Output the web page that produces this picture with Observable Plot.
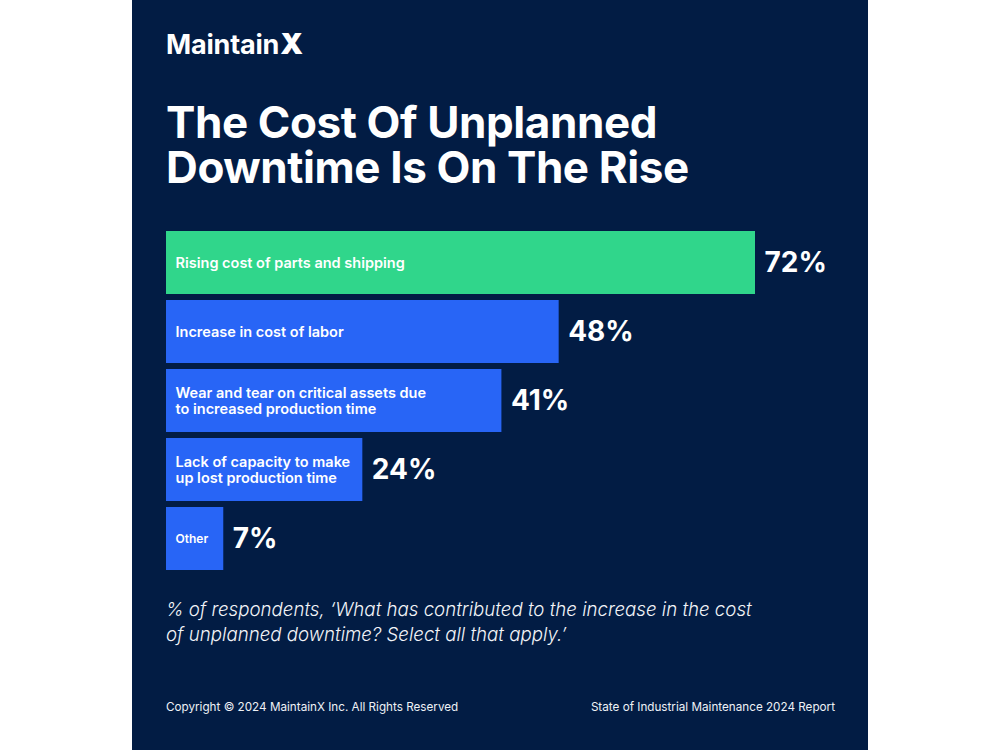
<!DOCTYPE html>
<html>
<head>
<meta charset="utf-8">
<script src="https://cdn.jsdelivr.net/npm/d3@7"></script>
<script src="https://cdn.jsdelivr.net/npm/@observablehq/plot@0.6"></script>
<style>
  html, body { margin: 0; padding: 0; background: #ffffff; width: 1000px; height: 750px; overflow: hidden; }
  #panel { position: absolute; left: 132px; top: 0; width: 736px; height: 750px; background: #021c44; font-family: Inter, "Noto Sans", sans-serif; color: #fff; }
  #logo { position: absolute; left: 34px; top: 28px; font-size: 27px; font-weight: 700; letter-spacing: -0.2px; line-height: 32px; }
  #logo .x { font-weight: 900; font-size: 29px; margin-left: 1px; }
  .tline { position: absolute; left: 34px; font-size: 44px; font-weight: 700; line-height: 40px; letter-spacing: -0.4px; white-space: nowrap; }
  #t1 { top: 102px; }
  #t2 { top: 147px; }
  #chart { position: absolute; left: 34px; top: 231px; }
  #caption { position: absolute; left: 34px; top: 597px; font-size: 18.7px; font-style: italic; font-weight: 300; line-height: 25px; color: #f2f4f8; }
  .foot { position: absolute; top: 700px; font-size: 11.7px; color: #eef1f6; }
  #footL { left: 34px; }
  #footR { right: 33px; }
</style>
</head>
<body>
<div id="panel">
  <div id="logo">Maintain<span class="x">X</span></div>
  <div class="tline" id="t1">The Cost Of Unplanned</div>
  <div class="tline" id="t2">Downtime Is On The Rise</div>
  <div id="chart"></div>
  <div id="caption">% of respondents, ‘What has contributed to the increase in the cost<br>of unplanned downtime? Select all that apply.’</div>
  <div class="foot" id="footL">Copyright © 2024 MaintainX Inc. All Rights Reserved</div>
  <div class="foot" id="footR">State of Industrial Maintenance 2024 Report</div>
</div>
<script>
const categories = [
  "Rising cost of parts and shipping",
  "Increase in cost of labor",
  "Wear and tear on critical assets due\nto increased production time",
  "Lack of capacity to make\nup lost production time",
  "Other"
];
const values = [72, 48, 41, 24, 7];
const highlight = [true, false, false, false, false];

const data = categories.map((c, i) => ({ category: c, value: values[i], hi: highlight[i] }));

const chart = Plot.plot({
  width: 700,
  height: 339,
  marginTop: 0,
  marginBottom: 0,
  marginLeft: 0,
  marginRight: 0,
  style: { background: "transparent", fontFamily: "Inter, 'Noto Sans', sans-serif", overflow: "visible" },
  x: { domain: [0, 72], range: [0, 589], axis: null },
  y: { domain: categories, paddingInner: 0.087, paddingOuter: 0, align: 0, axis: null },
  marks: [
    Plot.barX(data, { x: "value", y: "category", fill: d => d.hi ? "#30d68b" : "#2865f6" }),
    Plot.text(data, {
      x: 0, y: "category", text: "category", textAnchor: "start", dx: 9,
      fill: "#ffffff", fontSize: d => d.value < 10 ? 12 : 14.5, fontWeight: 600, lineHeight: 1.12
    }),
    Plot.text(data, {
      x: "value", y: "category", text: d => d.value + "%", textAnchor: "start", dx: 9,
      fill: "#ffffff", fontSize: 28, fontWeight: 700
    })
  ]
});
document.getElementById("chart").appendChild(chart);
</script>
</body>
</html>
